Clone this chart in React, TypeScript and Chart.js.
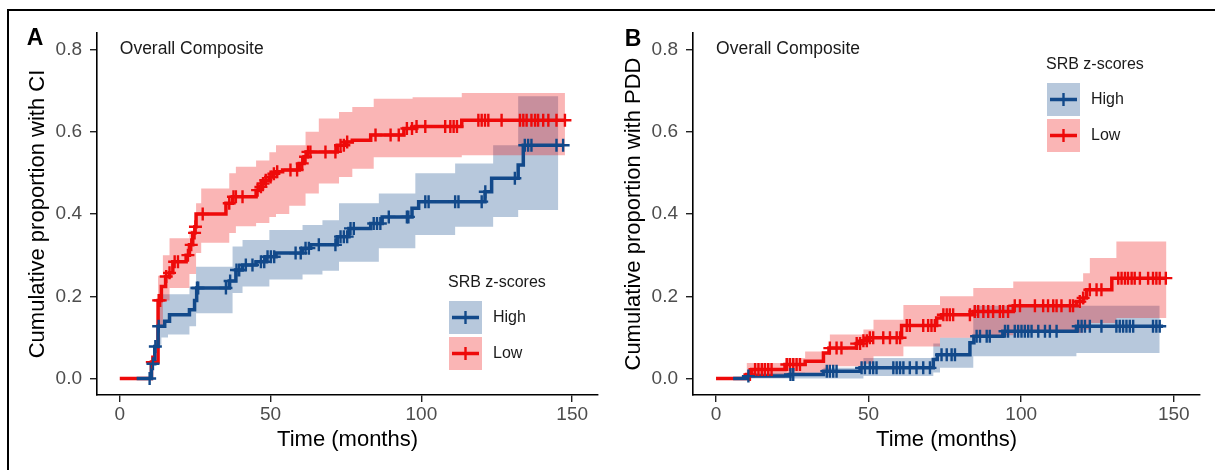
import { useEffect, useRef } from "react";
import { Chart, registerables } from "chart.js";

Chart.register(...registerables);

// ---------- Labels ----------
const xTitle = "Time (months)";
const yTitleA = "Cumulative proportion with CI";
const yTitleB = "Cumulative proportion with PDD";
const noteText = "Overall Composite";
const legendTitle = "SRB z-scores";
const groupNames = ["High", "Low"];
const xTickValues = [0, 50, 100, 150];
const yTickValues = [0, 0.2, 0.4, 0.6, 0.8];

// ---------- Panel A: Low (red) ----------
const aLowTime = [0, 10.5, 12.7, 13.8, 15.2, 16.5, 17.6, 22.0, 23.1, 24.2, 24.9, 25.3, 35.2, 37.4, 45.2, 46.5, 47.3, 48.2, 49.6, 50.9, 52.0, 54.0, 59.5, 61.1, 62.2, 72.1, 74.9, 77.1, 83.2, 94.2, 98.0, 113.4, 147.6];
const aLowCum = [0, 0.04, 0.19, 0.224, 0.248, 0.257, 0.284, 0.3, 0.325, 0.354, 0.369, 0.4, 0.426, 0.442, 0.458, 0.466, 0.474, 0.482, 0.49, 0.498, 0.503, 0.507, 0.523, 0.539, 0.551, 0.567, 0.575, 0.579, 0.592, 0.608, 0.613, 0.628, 0.628];
const aLowCensor = [10.8, 12.9, 13.4, 15.4, 16.5, 18.2, 19.3, 22.6, 23.7, 24.8, 25.1, 27.5, 36.3, 37.7, 38.5, 40.7, 45.7, 46.8, 47.5, 48.4, 50.0, 51.1, 52.2, 56.6, 58.8, 60.5, 61.6, 62.4, 63.2, 68.2, 71.5, 73.2, 74.3, 75.4, 84.8, 89.8, 92.5, 95.2, 96.9, 98.4, 101.3, 107.9, 109.6, 110.7, 111.8, 118.9, 120.0, 121.1, 122.2, 126.6, 132.7, 133.8, 134.9, 136.5, 137.7, 138.7, 140.4, 142.1, 144.8, 147.6];
const aLowCiTime = [12.7, 14.3, 16.5, 23.1, 25.3, 27.0, 36.3, 38.5, 45.2, 49.6, 51.8, 56.2, 61.6, 66.0, 72.7, 77.1, 84.2, 97.1, 113.4, 147.6];
const aLowCiLower = [0.13, 0.19, 0.22, 0.254, 0.305, 0.33, 0.354, 0.37, 0.378, 0.393, 0.4, 0.42, 0.45, 0.474, 0.49, 0.51, 0.538, 0.538, 0.543, 0.543];
const aLowCiUpper = [0.25, 0.3, 0.341, 0.36, 0.426, 0.462, 0.499, 0.515, 0.53, 0.55, 0.567, 0.567, 0.6, 0.632, 0.648, 0.66, 0.68, 0.684, 0.694, 0.694];

// ---------- Panel A: High (blue) ----------
const aHighTime = [5.6, 10.5, 11.6, 12.7, 14.9, 16.5, 23.1, 24.8, 25.5, 36.3, 38.5, 40.7, 45.2, 48.5, 51.8, 60.6, 63.3, 72.1, 76.0, 83.2, 87.0, 96.9, 99.1, 121.1, 123.3, 132.1, 133.8, 147.0];
const aHighCum = [0, 0.036, 0.078, 0.127, 0.139, 0.155, 0.167, 0.19, 0.22, 0.237, 0.264, 0.276, 0.284, 0.296, 0.305, 0.317, 0.325, 0.345, 0.365, 0.377, 0.393, 0.414, 0.43, 0.454, 0.487, 0.519, 0.567, 0.567];
const aHighCensor = [9.9, 11.0, 11.8, 12.9, 25.6, 26.0, 35.2, 36.6, 38.7, 39.6, 41.8, 44.0, 46.8, 47.9, 49.0, 50.1, 51.2, 58.3, 60.0, 61.6, 62.7, 66.0, 71.5, 73.2, 74.3, 75.4, 76.5, 77.6, 84.2, 85.3, 86.4, 89.2, 95.2, 95.7, 101.3, 102.4, 111.2, 112.3, 120.0, 121.2, 131.0, 134.3, 135.4, 136.5, 144.8, 147.0];
const aHighCiTime = [12.7, 13.8, 16.0, 23.1, 25.3, 37.4, 40.7, 49.6, 60.6, 67.2, 72.7, 85.9, 98.0, 111.2, 123.8, 132.1, 145.4];
const aHighCiLower = [0.082, 0.1, 0.107, 0.127, 0.159, 0.208, 0.224, 0.241, 0.253, 0.262, 0.284, 0.317, 0.349, 0.369, 0.393, 0.41, 0.41];
const aHighCiUpper = [0.2, 0.205, 0.205, 0.224, 0.272, 0.321, 0.337, 0.361, 0.373, 0.385, 0.426, 0.45, 0.499, 0.523, 0.567, 0.686, 0.686];

// ---------- Panel B: Low (red) ----------
const bLowTime = [0, 10.0, 11.7, 22.6, 29.2, 35.2, 37.0, 46.0, 48.0, 50.0, 60.8, 72.3, 73.9, 84.3, 97.4, 118.1, 120.3, 121.4, 129.7, 147.6];
const bLowCum = [0, 0.01, 0.022, 0.034, 0.042, 0.062, 0.074, 0.085, 0.092, 0.099, 0.129, 0.147, 0.155, 0.163, 0.177, 0.187, 0.196, 0.216, 0.244, 0.244];
const bLowCensor = [11.1, 12.8, 13.9, 15.0, 16.0, 17.1, 18.2, 23.2, 24.2, 25.3, 26.4, 27.5, 37.3, 39.5, 41.1, 46.1, 47.2, 48.3, 49.4, 50.4, 51.5, 54.8, 57.0, 59.2, 60.3, 62.5, 63.5, 67.9, 69.5, 70.6, 71.7, 74.5, 75.6, 76.6, 77.7, 83.2, 84.8, 85.9, 87.6, 89.2, 90.8, 93.0, 94.1, 95.7, 97.9, 99.6, 104.5, 107.2, 108.8, 110.5, 111.6, 113.2, 116.0, 117.0, 119.2, 120.3, 122.5, 124.7, 126.3, 131.8, 132.9, 134.0, 135.0, 136.2, 137.2, 138.9, 141.6, 143.2, 144.3, 145.4, 147.4];
const bLowCiTime = [10.0, 22.6, 29.2, 37.3, 48.3, 51.6, 61.4, 73.4, 84.3, 97.4, 120.3, 122.5, 131.2, 147.6];
const bLowCiLower = [0.002, 0.007, 0.014, 0.03, 0.036, 0.054, 0.078, 0.099, 0.105, 0.111, 0.119, 0.135, 0.147, 0.147];
const bLowCiUpper = [0.038, 0.05, 0.066, 0.107, 0.119, 0.143, 0.179, 0.2, 0.22, 0.236, 0.256, 0.293, 0.333, 0.333];

// ---------- Panel B: High (blue) ----------
const bHighTime = [5.6, 10.6, 24.2, 35.2, 47.2, 71.2, 72.5, 83.2, 84.5, 94.0, 118.1, 146.5];
const bHighCum = [0, 0.006, 0.01, 0.018, 0.026, 0.046, 0.058, 0.087, 0.103, 0.115, 0.127, 0.127];
const bHighCensor = [10.6, 24.4, 25.3, 36.3, 37.3, 38.4, 39.5, 47.7, 48.8, 50.4, 51.5, 52.6, 58.1, 59.2, 60.3, 61.4, 63.5, 65.7, 67.9, 70.1, 73.9, 75.6, 77.2, 78.3, 85.4, 86.5, 88.7, 89.7, 94.7, 95.7, 97.9, 99.0, 100.1, 101.2, 102.3, 103.4, 105.6, 107.8, 109.4, 111.6, 118.7, 119.8, 120.9, 122.5, 126.3, 131.2, 132.3, 133.4, 134.5, 135.6, 136.7, 143.2, 144.3, 145.4];
const bHighCiTime = [10.6, 35.2, 48.3, 71.2, 73.4, 84.3, 118.1, 145.4];
const bHighCiLower = [0, 0, 0.006, 0.015, 0.026, 0.054, 0.062, 0.062];
const bHighCiUpper = [0.014, 0.026, 0.05, 0.085, 0.099, 0.177, 0.177, 0.177];

// ---------- Styles ----------
const FONT = '"Liberation Sans", Arial, Helvetica, sans-serif';
const BLUE = "#12498A";
const RED = "#EE0A0A";
const BLUE_FILL = "rgba(18,73,138,0.3)";
const RED_FILL = "rgba(238,10,10,0.3)";

Chart.defaults.font.family = FONT;

type XY = { x: number; y: number };
const pts = (ts: number[], vs: number[]): XY[] => ts.map((t, i) => ({ x: t, y: vs[i] }));
const stepAt = (ts: number[], vs: number[], t: number) => {
  let v = vs[0];
  for (let i = 0; i < ts.length; i++) if (ts[i] <= t + 1e-9) v = vs[i];
  return v;
};
const censorPts = (ts: number[], vs: number[], cs: number[]): XY[] =>
  cs.map((c) => ({ x: c, y: stepAt(ts, vs, c) }));

interface Curve {
  time: number[];
  cum: number[];
  censor: number[];
  ciTime: number[];
  ciLower: number[];
  ciUpper: number[];
}

const extrasPlugin = {
  id: "extras",
  afterDraw(chart: any, _args: any, opts: any) {
    const { ctx } = chart;
    const xs = chart.scales.x;
    const ys = chart.scales.y;
    ctx.save();
    // annotation
    ctx.font = `17.5px ${FONT}`;
    ctx.fillStyle = "#1a1a1a";
    ctx.textAlign = "left";
    ctx.textBaseline = "middle";
    ctx.fillText(noteText, xs.getPixelForValue(0), ys.getPixelForValue(0.8));
    // panel tag
    ctx.font = `bold 23px ${FONT}`;
    ctx.fillStyle = "#000";
    ctx.textAlign = "center";
    ctx.fillText(opts.tag, opts.tagX, opts.tagY);
    // legend
    const lx = opts.legendX;
    const ly = opts.legendY;
    ctx.font = `16px ${FONT}`;
    ctx.fillStyle = "#1a1a1a";
    ctx.textAlign = "left";
    ctx.fillText(legendTitle, lx, ly);
    const fills = [BLUE_FILL, RED_FILL];
    const lines = [BLUE, RED];
    groupNames.forEach((name, i) => {
      const bx = lx + 1;
      const by = ly + 18 + i * 36;
      ctx.fillStyle = fills[i];
      ctx.fillRect(bx, by, 33, 33);
      const cy = by + 16.5;
      ctx.strokeStyle = lines[i];
      ctx.lineWidth = 3.5;
      ctx.beginPath();
      ctx.moveTo(bx + 3, cy);
      ctx.lineTo(bx + 30, cy);
      ctx.stroke();
      ctx.lineWidth = 2.4;
      ctx.beginPath();
      ctx.moveTo(bx + 16.5, cy - 6.5);
      ctx.lineTo(bx + 16.5, cy + 6.5);
      ctx.stroke();
      ctx.fillStyle = "#1a1a1a";
      ctx.fillText(name, bx + 44, cy);
    });
    ctx.restore();
  },
};

function buildConfig(high: Curve, low: Curve, yTitle: string, rightPad: number, extras: any): any {
  const ribbon = (c: Curve, key: "ciUpper" | "ciLower", color: string, fillTo: number | false, order: number) => ({
    type: "line",
    data: pts(c.ciTime, c[key]),
    stepped: "before",
    borderColor: "rgba(0,0,0,0)",
    borderWidth: 0,
    pointRadius: 0,
    backgroundColor: color,
    fill: fillTo === false ? false : fillTo,
    order,
  });
  const line = (c: Curve, color: string, order: number) => ({
    type: "line",
    data: pts(c.time, c.cum),
    stepped: "before",
    borderColor: color,
    borderWidth: 3.5,
    pointRadius: 0,
    fill: false,
    order,
  });
  const marks = (c: Curve, color: string, order: number) => ({
    type: "line",
    data: censorPts(c.time, c.cum, c.censor),
    showLine: false,
    pointStyle: "cross",
    pointRadius: 6.5,
    pointBorderWidth: 2.4,
    pointBorderColor: color,
    borderColor: color,
    fill: false,
    order,
  });
  return {
    type: "line",
    data: {
      datasets: [
        ribbon(high, "ciUpper", BLUE_FILL, 1, 11),
        ribbon(high, "ciLower", BLUE_FILL, false, 11),
        ribbon(low, "ciUpper", RED_FILL, 3, 10),
        ribbon(low, "ciLower", RED_FILL, false, 10),
        line(low, RED, 5),
        line(high, BLUE, 4),
        marks(low, RED, 3),
        marks(high, BLUE, 2),
      ],
    },
    options: {
      animation: false,
      responsive: false,
      devicePixelRatio: 1,
      events: [],
      layout: { padding: { top: 33, right: rightPad, left: 0, bottom: 0 } },
      plugins: {
        legend: { display: false },
        tooltip: { enabled: false },
        extras,
      },
      scales: {
        x: {
          type: "linear",
          min: -7.55,
          max: 158.6,
          afterBuildTicks: (s: any) => {
            s.ticks = xTickValues.map((v) => ({ value: v }));
          },
          afterFit: (s: any) => {
            s.height = 75;
          },
          ticks: {
            callback: (v: any) => String(v),
            color: "#4D4D4D",
            font: { size: 19 },
            padding: 1,
            maxRotation: 0,
          },
          grid: {
            display: true,
            drawOnChartArea: false,
            drawTicks: true,
            tickLength: 7,
            color: "#222",
            lineWidth: 1.4,
          },
          border: { display: true, color: "#000", width: 1.6 },
          title: {
            display: true,
            text: xTitle,
            color: "#000",
            font: { size: 22 },
            padding: { top: 0, bottom: 17 },
          },
        },
        y: {
          type: "linear",
          min: -0.04,
          max: 0.84,
          afterBuildTicks: (s: any) => {
            s.ticks = yTickValues.map((v) => ({ value: v }));
          },
          afterFit: (s: any) => {
            s.width = 97;
          },
          ticks: {
            callback: (v: any) => Number(v).toFixed(1),
            color: "#4D4D4D",
            font: { size: 19 },
            padding: 8,
          },
          grid: {
            display: true,
            drawOnChartArea: false,
            drawTicks: true,
            tickLength: 7,
            color: "#222",
            lineWidth: 1.4,
          },
          border: { display: true, color: "#000", width: 1.6 },
          title: {
            display: true,
            text: yTitle,
            color: "#000",
            font: { size: 22 },
            padding: { top: 25, bottom: 0 },
          },
        },
      },
    },
    plugins: [extrasPlugin],
  };
}

export default function App() {
  const refA = useRef<HTMLCanvasElement>(null);
  const refB = useRef<HTMLCanvasElement>(null);

  useEffect(() => {
    const aHigh: Curve = { time: aHighTime, cum: aHighCum, censor: aHighCensor, ciTime: aHighCiTime, ciLower: aHighCiLower, ciUpper: aHighCiUpper };
    const aLow: Curve = { time: aLowTime, cum: aLowCum, censor: aLowCensor, ciTime: aLowCiTime, ciLower: aLowCiLower, ciUpper: aLowCiUpper };
    const bHigh: Curve = { time: bHighTime, cum: bHighCum, censor: bHighCensor, ciTime: bHighCiTime, ciLower: bHighCiLower, ciUpper: bHighCiUpper };
    const bLow: Curve = { time: bLowTime, cum: bLowCum, censor: bLowCensor, ciTime: bLowCiTime, ciLower: bLowCiLower, ciUpper: bLowCiUpper };
    const a = new Chart(
      refA.current as HTMLCanvasElement,
      buildConfig(aHigh, aLow, yTitleA, 7, { tag: "A", tagX: 35, tagY: 39, legendX: 448, legendY: 283 })
    );
    const b = new Chart(
      refB.current as HTMLCanvasElement,
      buildConfig(bHigh, bLow, yTitleB, 15, { tag: "B", tagX: 37, tagY: 40, legendX: 450, legendY: 65 })
    );
    return () => {
      a.destroy();
      b.destroy();
    };
  }, []);

  return (
    <div style={{ position: "absolute", left: 0, top: 0, width: 1215, height: 470, background: "#fff", overflow: "hidden" }}>
      <div
        style={{
          position: "absolute",
          left: 7,
          top: 9,
          right: -2,
          bottom: -2,
          borderTop: "2px solid #000",
          borderLeft: "2px solid #000",
        }}
      />
      <canvas ref={refA} width={607} height={470} style={{ position: "absolute", left: 0, top: 0 }} />
      <canvas ref={refB} width={619} height={470} style={{ position: "absolute", left: 596, top: 0 }} />
    </div>
  );
}
